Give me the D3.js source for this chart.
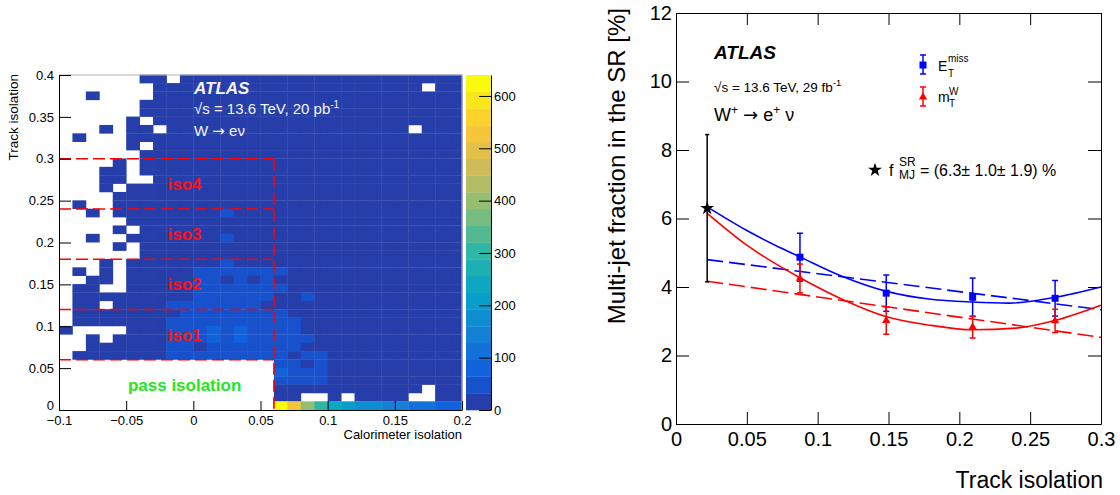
<!DOCTYPE html>
<html>
<head>
<meta charset="utf-8">
<script src="https://cdn.jsdelivr.net/npm/d3@7"></script>
<style>
body { margin: 0; background: #fff; }
svg { font-family: "Liberation Sans", Arial, Helvetica, sans-serif; }
.arrow { font-family: "DejaVu Sans", sans-serif; }
</style>
</head>
<body>
<svg id="chart" width="1120" height="495"></svg>
<script>
// ---- left panel data: calorimeter isolation (x) vs track isolation (y)
var caloBins = [-0.10, -0.09, -0.08, -0.07, -0.06, -0.05, -0.04, -0.03, -0.02, -0.01,
                 0.00,  0.01,  0.02,  0.03,  0.04,  0.05,  0.06,  0.07,  0.08,  0.09,
                 0.10,  0.11,  0.12,  0.13,  0.14,  0.15,  0.16,  0.17,  0.18,  0.19];
// rows listed from the top of the plot down
var trackBins = [0.39, 0.38, 0.37, 0.36, 0.35, 0.34, 0.33, 0.32, 0.31, 0.30,
                 0.29, 0.28, 0.27, 0.26, 0.25, 0.24, 0.23, 0.22, 0.21, 0.20,
                 0.19, 0.18, 0.17, 0.16, 0.15, 0.14, 0.13, 0.12, 0.11, 0.10,
                 0.09, 0.08, 0.07, 0.06, 0.05, 0.04, 0.03, 0.02, 0.01, 0.00];
var counts = [
  [0,0,0,0,0,0,1,1,0,2,2,3,3,3,3,3, 3,2,2,2,2,1,1,1,1,1,1,1,1,1],
  [0,0,0,0,0,0,0,1,1,2,2,3,3,3,4,3, 3,3,2,2,2,2,1,1,1,1,1,0,1,1],
  [0,0,1,0,0,0,0,1,2,2,3,3,3,4,4,4, 3,3,3,2,2,2,1,1,1,1,1,1,1,1],
  [0,0,0,0,0,0,1,1,2,2,3,3,4,4,4,4, 4,3,3,2,2,2,2,1,1,1,1,1,1,1],
  [0,0,0,0,0,0,1,2,2,3,3,4,4,4,5,4, 4,3,3,3,2,2,2,1,1,1,1,1,1,1],
  [0,0,0,0,0,1,0,1,2,3,3,4,4,5,5,5, 4,4,3,3,2,2,2,2,1,1,1,1,1,1],
  [0,0,0,1,0,1,1,0,2,3,4,4,5,5,5,5, 4,4,3,3,3,2,2,2,1,1,0,1,1,1],
  [0,1,0,0,0,1,1,2,2,3,4,4,5,5,6,5, 5,4,4,3,3,2,2,2,2,1,1,1,1,1],
  [0,0,0,0,0,1,0,1,2,3,4,5,5,6,6,6, 5,4,4,3,3,3,2,2,2,1,1,1,1,1],
  [0,0,0,0,0,0,1,2,3,3,4,5,6,6,6,6, 5,5,4,4,3,3,2,2,2,2,1,1,1,1],
  [0,0,0,0,1,0,1,2,3,4,4,5,6,6,7,7, 6,5,4,4,3,3,3,2,2,2,1,1,1,1],
  [0,0,0,1,1,0,1,2,3,4,5,5,6,7,7,7, 6,5,5,4,4,3,3,2,2,2,2,1,1,1],
  [0,0,0,1,1,0,0,2,3,4,5,6,7,7,8,8, 7,6,5,4,4,3,3,3,2,2,2,1,1,1],
  [0,0,0,1,0,1,1,2,4,5,5,6,7,8,8,8, 7,6,5,5,4,4,3,3,2,2,2,2,1,1],
  [0,0,0,0,1,1,2,3,4,5,6,7,8,9,9,9, 8,7,6,5,4,4,3,3,3,2,2,2,1,1],
  [0,1,0,0,1,1,2,3,4,5,6,7,8,9,10,10, 8,7,6,5,5,4,4,3,3,2,2,2,2,1],
  [0,0,1,0,1,1,2,3,5,6,7,8,34,10,11,10, 9,8,7,6,5,4,4,3,3,3,2,2,2,1],
  [0,0,0,0,0,1,2,4,5,6,7,9,10,11,12,11, 10,8,7,6,5,5,4,3,3,3,2,2,2,2],
  [0,0,0,0,1,0,2,4,5,7,8,9,11,12,12,12, 10,9,8,6,6,5,4,4,3,3,2,2,2,2],
  [0,0,1,0,0,1,3,4,6,7,9,10,36,13,13,13, 11,9,8,7,6,5,5,4,3,3,3,2,2,2],
  [0,0,0,0,1,0,3,5,6,8,9,11,13,14,15,14, 12,10,9,7,6,5,5,4,4,3,3,2,2,2],
  [0,0,0,0,0,0,3,5,7,8,10,12,14,16,16,15, 13,11,9,8,7,6,5,4,4,3,3,3,2,2],
  [0,0,0,1,0,1,3,6,7,9,11,13,34,17,18,16, 14,12,10,8,7,6,5,5,4,3,3,3,2,2],
  [0,1,0,1,0,1,4,6,8,10,36,38,40,35,42,37, 40,13,11,9,8,6,6,5,4,4,3,3,2,2],
  [0,0,1,1,0,1,4,7,8,11,35,40,20,38,22,39, 18,14,11,9,8,7,6,5,4,4,3,3,3,2],
  [0,1,1,0,0,1,4,7,9,11,38,42,44,41,45,40, 36,15,12,10,8,7,6,5,5,4,3,3,3,2],
  [0,1,1,1,1,1,5,8,10,12,37,43,46,44,42,40, 20,16,34,10,9,7,6,5,5,4,3,3,3,2],
  [0,1,1,0,1,2,5,8,36,39,42,46,48,45,44,24, 22,17,14,11,9,8,7,6,5,4,4,3,3,2],
  [0,1,1,1,1,2,5,9,12,37,43,47,50,48,45,42, 38,18,15,12,10,8,7,6,5,4,4,3,3,2],
  [0,1,1,1,1,2,6,9,38,40,45,49,52,50,47,44, 40,35,16,12,10,9,7,6,5,5,4,3,3,3],
  [1,0,0,0,0,2,6,10,39,42,46,68,54,70,49,45, 42,37,17,13,11,9,8,6,5,5,4,3,3,3],
  [0,0,1,0,1,2,6,10,40,43,48,72,55,74,50,46, 43,38,35,14,11,9,8,7,6,5,4,4,3,3],
  [0,0,1,1,1,2,7,11,41,44,22,52,56,54,51,47, 44,39,18,15,12,10,8,7,6,5,4,4,3,3],
  [0,1,1,1,1,2,7,11,42,45,50,53,57,55,52,48, 45,20,36,34,12,10,9,7,6,5,5,4,3,3],
  [0,0,0,0,0,0,0,0,0,0,0,0,0,0,0,0, 46,40,20,35,13,11,9,8,7,6,5,4,4,3],
  [0,0,0,0,0,0,0,0,0,0,0,0,0,0,0,0, 70,42,36,38,14,11,10,8,7,6,5,4,4,3],
  [0,0,0,0,0,0,0,0,0,0,0,0,0,0,0,0, 40,38,36,34,14,12,10,8,7,6,5,5,4,3],
  [0,0,0,0,0,0,0,0,0,0,0,0,0,0,0,0, 28,25,22,18,15,12,10,9,8,6,5,0,4,3],
  [0,0,0,0,0,0,0,0,0,0,0,0,0,0,0,0, 30,26,0,0,16,0,11,10,8,7,0,0,5,4],
  [0,0,0,0,0,0,0,0,0,0,0,0,0,0,0,0, 625,530,400,300,240,200,175,165,140,130,115,100,90,80]
];
var zTicks = [0, 100, 200, 300, 400, 500, 600];
var isoCuts = [0.06, 0.12, 0.18, 0.24, 0.30];
var isoNames = ['iso1', 'iso2', 'iso3', 'iso4'];
var caloCut = 0.06;

// ---- right panel data: multi-jet fraction vs track isolation
var binCentres = [0.0875, 0.1484, 0.2094, 0.2676];
var etMissFrac = [4.87, 3.82, 3.70, 3.67];
var etMissErr = [0.70, 0.53, 0.56, 0.52];
var mtFrac = [4.25, 3.02, 2.83, 3.01];
var mtErr = [0.42, 0.40, 0.32, 0.34];
var srIso = 0.022, srFrac = 6.3, srErr = 2.15;
var etMissFit = [[0.022, 6.34], [0.05, 5.65], [0.07, 5.22], [0.0875, 4.88], [0.118, 4.30],
                 [0.148, 3.88], [0.18, 3.64], [0.209, 3.56], [0.235, 3.53], [0.268, 3.70], [0.30, 4.00]];
var mtFit = [[0.022, 6.15], [0.05, 5.22], [0.0875, 4.27], [0.118, 3.63], [0.148, 3.14],
             [0.18, 2.88], [0.209, 2.75], [0.24, 2.80], [0.268, 3.03], [0.30, 3.47]];
var etMissLin = [[0.022, 4.80], [0.30, 3.34]];
var mtLin = [[0.022, 4.17], [0.30, 2.53]];

var svg = d3.select('#chart');

// ROOT "bird" palette
var birdStops = [0, 0.125, 0.25, 0.375, 0.5, 0.625, 0.75, 0.875, 1];
var birdR = [0.2082, 0.0592, 0.0780, 0.0232, 0.1802, 0.5301, 0.8186, 0.9956, 0.9764];
var birdG = [0.1664, 0.3599, 0.5041, 0.6419, 0.7178, 0.7492, 0.7328, 0.7862, 0.9832];
var birdB = [0.5293, 0.8684, 0.8385, 0.7914, 0.6425, 0.4662, 0.3499, 0.1968, 0.0539];
var bird = d3.scaleLinear()
    .domain(birdStops)
    .range(birdStops.map(function (s, i) { return d3.rgb(birdR[i] * 255, birdG[i] * 255, birdB[i] * 255); }))
    .interpolate(d3.interpolateRgb);
var nCont = 20, zMax = 640;
var levelColor = function (v) {
    var b = Math.min(nCont - 1, Math.floor(v / zMax * nCont));
    return bird((b + 0.99) / nCont);
};

var fmt = function (d) {
    return (d < 0 ? '\u2212' : '') + String(Math.abs(d));
};

// ================= left panel =================
var xL = d3.scaleLinear().domain([-0.1, 0.2]).range([59, 462]);
var yL = d3.scaleLinear().domain([0, 0.4]).range([410, 75]);
var zL = d3.scaleLinear().domain([0, zMax]).range([410, 75]);
var binW = 0.01;

var cells = [];
counts.forEach(function (row, r) {
    row.forEach(function (v, c) {
        if (v > 0) cells.push({x: caloBins[c], y: trackBins[r], v: v});
    });
});
// slight overlap so the cells do not leave white seams
svg.append('g').attr('class', 'cells')
    .selectAll('rect')
    .data(cells)
    .join('rect')
    .attr('x', function (d) { return xL(d.x); })
    .attr('y', function (d) { return yL(d.y + binW) - 0.3; })
    .attr('width', xL(binW) - xL(0) + 0.4)
    .attr('height', yL(0) - yL(binW) + 0.3)
    .attr('fill', function (d) { return levelColor(d.v); });

// frame top / right (grey)
svg.append('path')
    .attr('d', 'M' + xL(-0.1) + ',' + yL(0.4) + 'H' + xL(0.2) + 'V' + yL(0))
    .attr('fill', 'none')
    .attr('stroke', '#b0b0b0')
    .attr('stroke-width', 1);

// iso region boxes
var dashG = svg.append('g')
    .attr('stroke', '#ff0000')
    .attr('stroke-width', 1.6)
    .attr('stroke-dasharray', '12,5')
    .attr('fill', 'none');
dashG.selectAll('line.h')
    .data(isoCuts)
    .join('line')
    .attr('class', 'h')
    .attr('x1', xL(-0.1))
    .attr('x2', xL(caloCut))
    .attr('y1', function (d) { return yL(d); })
    .attr('y2', function (d) { return yL(d); });
dashG.append('line')
    .attr('x1', xL(caloCut)).attr('x2', xL(caloCut))
    .attr('y1', yL(isoCuts[isoCuts.length - 1])).attr('y2', yL(0));

svg.append('g')
    .selectAll('text')
    .data(isoNames)
    .join('text')
    .attr('x', xL(-0.02) + 1)
    .attr('y', function (d, i) { return yL((isoCuts[i] + isoCuts[i + 1]) / 2) + 6; })
    .attr('fill', '#ff1010')
    .attr('font-weight', 'bold')
    .attr('font-size', 17)
    .text(function (d) { return d; });
svg.append('text')
    .attr('x', xL(-0.0487))
    .attr('y', yL(0.03) + 6)
    .attr('fill', '#22e622')
    .attr('font-weight', 'bold')
    .attr('font-size', 17)
    .text('pass isolation');

// axes
var axL = svg.append('g').attr('transform', 'translate(' + xL(-0.1) + ',0)');
axL.call(d3.axisLeft(yL).tickValues(d3.range(0, 0.4001, 0.01)).tickSizeInner(-6).tickSizeOuter(0).tickFormat(''));
axL.call(d3.axisLeft(yL).tickValues([0, 0.05, 0.1, 0.15, 0.2, 0.25, 0.3, 0.35, 0.4])
    .tickSizeInner(-12).tickSizeOuter(0).tickPadding(5).tickFormat(fmt));
axL.selectAll('.tick text').filter(function (d) { return d === 0; }).attr('dy', '-0.05em');
var axB = svg.append('g').attr('transform', 'translate(0,' + yL(0) + ')');
axB.call(d3.axisBottom(xL).tickValues(d3.range(-0.1, 0.2001, 0.01)).tickSizeInner(-4).tickSizeOuter(0).tickFormat(''));
axB.call(d3.axisBottom(xL).tickValues([-0.1, -0.05, 0, 0.05, 0.1, 0.15, 0.2])
    .tickSizeInner(-9).tickSizeOuter(0).tickPadding(6).tickFormat(fmt));
[axL, axB].forEach(function (a) {
    a.selectAll('text').attr('font-size', 13).attr('fill', '#000').attr('font-family', null);
    a.selectAll('path, line').attr('stroke', '#000');
});

svg.append('text')
    .attr('transform', 'translate(18,' + 74 + ') rotate(-90)')
    .attr('text-anchor', 'end')
    .attr('font-size', 13.5)
    .text('Track isolation');
svg.append('text')
    .attr('x', 462)
    .attr('y', 439)
    .attr('text-anchor', 'end')
    .attr('font-size', 13)
    .text('Calorimeter isolation');

// colour bar
var cbX = 466, cbW = 25;
svg.append('g')
    .selectAll('rect')
    .data(d3.range(nCont))
    .join('rect')
    .attr('x', cbX)
    .attr('width', cbW)
    .attr('y', function (b) { return zL((b + 1) * zMax / nCont); })
    .attr('height', zL(0) - zL(zMax / nCont) + 0.3)
    .attr('fill', function (b) { return bird((b + 0.99) / nCont); });
var axZ = svg.append('g').attr('transform', 'translate(' + (cbX + cbW) + ',0)');
axZ.call(d3.axisRight(zL).tickValues(zTicks).tickSizeInner(-12).tickSizeOuter(0).tickPadding(3));
axZ.selectAll('text').attr('font-size', 13).attr('font-family', null);
axZ.select('.domain').attr('stroke', '#000');

// labels
var lt = svg.append('g').attr('fill', '#f4f4f4');
lt.append('text').attr('x', 194).attr('y', 94)
    .attr('font-weight', 'bold').attr('font-style', 'italic').attr('font-size', 17)
    .text('ATLAS');
var l2 = lt.append('text').attr('x', 194).attr('y', 114).attr('font-size', 15);
l2.append('tspan').text('\u221As = 13.6 TeV, 20 pb');
l2.append('tspan').attr('dy', -6).attr('font-size', 10).text('-1');
var l3 = lt.append('text').attr('x', 194).attr('y', 136).attr('font-size', 15);
l3.append('tspan').text('W ');
l3.append('tspan').attr('class', 'arrow').text('\u2192');
l3.append('tspan').text(' e\u03BD');

// ================= right panel =================
var xR = d3.scaleLinear().domain([0, 0.3]).range([676, 1101]);
var yR = d3.scaleLinear().domain([0, 12]).range([424, 13]);
var blue = '#0000ff', red = '#ff0000';

var frame = svg.append('g');
var tickSet = function (g, axisFn, scale, majors, minors, majLen, minLen, labels) {
    g.call(axisFn(scale).tickValues(minors).tickSizeInner(-minLen).tickSizeOuter(0).tickFormat(''));
    var ax = axisFn(scale).tickValues(majors).tickSizeInner(-majLen).tickSizeOuter(0);
    if (labels) ax.tickPadding(labels).tickFormat(fmt); else ax.tickFormat('');
    g.call(ax);
    g.selectAll('text').attr('font-size', 20).attr('fill', '#000').attr('font-family', null);
    g.selectAll('path, line').attr('stroke', '#000');
};
var yMaj = [0, 2, 4, 6, 8, 10, 12], yMin = d3.range(0, 12.01, 0.5);
var xMaj = [0, 0.05, 0.1, 0.15, 0.2, 0.25, 0.3], xMin = d3.range(0, 0.3001, 0.01);
tickSet(frame.append('g').attr('transform', 'translate(' + xR(0) + ',0)'), d3.axisLeft, yR, yMaj, yMin, 13, 7, 4);
tickSet(frame.append('g').attr('transform', 'translate(' + xR(0.3) + ',0)'), d3.axisRight, yR, yMaj, yMin, 13, 7, 0);
tickSet(frame.append('g').attr('transform', 'translate(0,' + yR(0) + ')'), d3.axisBottom, xR, xMaj, xMin, 12, 6, 8);
tickSet(frame.append('g').attr('transform', 'translate(0,' + yR(12) + ')'), d3.axisTop, xR, xMaj, xMin, 12, 6, 0);

svg.append('text')
    .attr('transform', 'translate(625,8) rotate(-90)')
    .attr('text-anchor', 'end')
    .attr('font-size', 24)
    .text('Multi-jet fraction in the SR [%]');
svg.append('text')
    .attr('x', 1103)
    .attr('y', 488)
    .attr('text-anchor', 'end')
    .attr('font-size', 23)
    .text('Track isolation');

// fit curves
var line = d3.line()
    .x(function (d) { return xR(d[0]); })
    .y(function (d) { return yR(d[1]); })
    .curve(d3.curveMonotoneX);
svg.append('path').attr('d', line(etMissLin)).attr('fill', 'none')
    .attr('stroke', blue).attr('stroke-width', 1.6).attr('stroke-dasharray', '16,6');
svg.append('path').attr('d', line(mtLin)).attr('fill', 'none')
    .attr('stroke', red).attr('stroke-width', 1.6).attr('stroke-dasharray', '16,6');
svg.append('path').attr('d', line(etMissFit)).attr('fill', 'none')
    .attr('stroke', blue).attr('stroke-width', 1.6);
svg.append('path').attr('d', line(mtFit)).attr('fill', 'none')
    .attr('stroke', red).attr('stroke-width', 1.6);

// error bars with small caps
var errBar = function (g, cx, lo, hi, col, cap) {
    g.append('line').attr('x1', cx).attr('x2', cx).attr('y1', lo).attr('y2', hi)
        .attr('stroke', col).attr('stroke-width', 1.5);
    [lo, hi].forEach(function (y) {
        g.append('line').attr('x1', cx - cap).attr('x2', cx + cap).attr('y1', y).attr('y2', y)
            .attr('stroke', col).attr('stroke-width', 1.5);
    });
};
var pts = svg.append('g');
binCentres.forEach(function (x, i) {
    errBar(pts, xR(x), yR(etMissFrac[i] - etMissErr[i]), yR(etMissFrac[i] + etMissErr[i]), blue, 3);
    errBar(pts, xR(x), yR(mtFrac[i] - mtErr[i]), yR(mtFrac[i] + mtErr[i]), red, 3);
});
pts.selectAll('rect.et')
    .data(binCentres)
    .join('rect')
    .attr('class', 'et')
    .attr('x', function (d) { return xR(d) - 3.5; })
    .attr('y', function (d, i) { return yR(etMissFrac[i]) - 3.5; })
    .attr('width', 7).attr('height', 7)
    .attr('fill', blue);
pts.selectAll('path.mt')
    .data(binCentres)
    .join('path')
    .attr('class', 'mt')
    .attr('transform', function (d, i) { return 'translate(' + xR(d) + ',' + yR(mtFrac[i]) + ')'; })
    .attr('d', d3.symbol(d3.symbolTriangle, 30))
    .attr('fill', red);

// signal-region extrapolation
errBar(svg.append('g'), xR(srIso), yR(srFrac - srErr), yR(srFrac + srErr), '#000', 2);
svg.append('path')
    .attr('transform', 'translate(' + xR(srIso) + ',' + yR(srFrac) + ')')
    .attr('d', d3.symbol(d3.symbolStar, 60))
    .attr('fill', '#000');

// texts
svg.append('text').attr('x', 714).attr('y', 59)
    .attr('font-weight', 'bold').attr('font-style', 'italic').attr('font-size', 19)
    .text('ATLAS');
var r2 = svg.append('text').attr('x', 714).attr('y', 92).attr('font-size', 13.5);
r2.append('tspan').text('\u221As = 13.6 TeV, 29 fb');
r2.append('tspan').attr('dy', -6).attr('font-size', 9.5).text('-1');
var r3 = svg.append('text').attr('x', 714).attr('y', 121).attr('font-size', 18);
r3.append('tspan').text('W');
r3.append('tspan').attr('dy', -7).attr('font-size', 12).text('+');
r3.append('tspan').attr('dy', 7).text(' ');
r3.append('tspan').attr('class', 'arrow').text('\u2192');
r3.append('tspan').text(' e');
r3.append('tspan').attr('dy', -7).attr('font-size', 12).text('+');
r3.append('tspan').attr('dy', 7).text(' \u03BD');

// legend
var lg = svg.append('g');
errBar(lg, 923, 74, 55, blue, 3);
lg.append('rect').attr('x', 919.5).attr('y', 61.5).attr('width', 7).attr('height', 7).attr('fill', blue);
errBar(lg, 923, 106, 87, red, 3);
lg.append('path').attr('transform', 'translate(923,97)')
    .attr('d', d3.symbol(d3.symbolTriangle, 30)).attr('fill', red);
lg.append('text').attr('x', 938).attr('y', 71).attr('font-size', 14).text('E');
lg.append('text').attr('x', 948).attr('y', 62).attr('font-size', 10).text('miss');
lg.append('text').attr('x', 948).attr('y', 77).attr('font-size', 10).text('T');
lg.append('text').attr('x', 938).attr('y', 102).attr('font-size', 14).text('m');
lg.append('text').attr('x', 949).attr('y', 95).attr('font-size', 10).text('W');
lg.append('text').attr('x', 949).attr('y', 107).attr('font-size', 10).text('T');

svg.append('path').attr('transform', 'translate(875,170)')
    .attr('d', d3.symbol(d3.symbolStar, 60)).attr('fill', '#000');
svg.append('text').attr('x', 889).attr('y', 176).attr('font-size', 16).text('f');
svg.append('text').attr('x', 899).attr('y', 166).attr('font-size', 12).text('SR');
svg.append('text').attr('x', 899).attr('y', 179).attr('font-size', 12).text('MJ');
svg.append('text').attr('x', 920).attr('y', 176).attr('font-size', 16)
    .text('= (6.3\u00B1 1.0\u00B1 1.9) %');
</script>
</body>
</html>
